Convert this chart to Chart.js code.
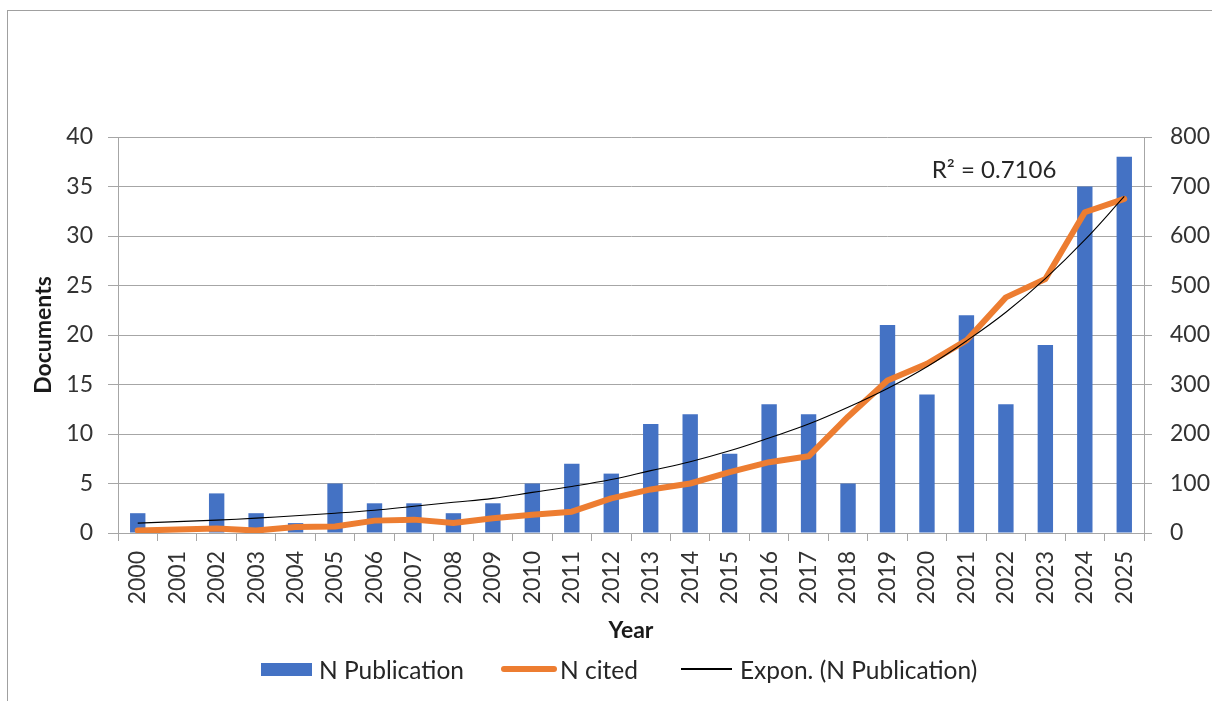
<!DOCTYPE html>
<html>
<head>
<meta charset="utf-8">
<title>Documents per year</title>
<script src="https://cdn.jsdelivr.net/npm/chart.js@4.4.1/dist/chart.umd.min.js"></script>
<style>
  html, body { margin: 0; padding: 0; background: #fff; overflow: hidden; }
  body { width: 1212px; height: 701px; position: relative; font-family: Lato, sans-serif; }
  #frame { position: absolute; left: 7px; top: 10px; width: 1400px; height: 1000px; border: 1px solid #a0a0a0; }
  #wrap { position: absolute; left: 0; top: 0; width: 1212px; height: 701px; }
  #legend { position: absolute; left: 261px; top: 655px; height: 28px; display: flex; align-items: center; font-size: 24.5px; color: #262626; }
  #legend .sw { display: inline-block; }
  #legend .lbl { white-space: nowrap; }
</style>
</head>
<body>
<div id="frame"></div>
<div id="wrap"><canvas id="docChart"></canvas></div>
<div id="legend"></div>

<script>
// data
const years = ['2000', '2001', '2002', '2003', '2004', '2005', '2006', '2007', '2008', '2009',
               '2010', '2011', '2012', '2013', '2014', '2015', '2016', '2017', '2018', '2019',
               '2020', '2021', '2022', '2023', '2024', '2025'];
const nPublication = [2, 0, 4, 2, 1, 5, 3, 3, 2, 3, 5, 7, 6, 11, 12, 8, 13, 12, 5, 21, 14, 22, 13, 19, 35, 38];
const nCited = [5, 7, 9, 5, 12, 13, 25, 27, 20, 30, 37, 43, 70, 88, 100, 123, 143, 155, 235, 308,
                342, 389, 476, 513, 648, 675];
// exponential trendline as drawn in the picture
const exponTrend = [1.0, 1.15, 1.3, 1.5, 1.75, 2.0, 2.3, 2.7, 3.1, 3.5, 4.1, 4.7, 5.4, 6.3, 7.2, 8.3,
                    9.6, 11.0, 12.7, 14.6, 16.8, 19.4, 22.3, 25.7, 29.6, 34.0];
const docTicks = [0, 5, 10, 15, 20, 25, 30, 35, 40];
const citedTicks = [0, 100, 200, 300, 400, 500, 600, 700, 800];
const r2Text = 'R\u00B2 = 0.7106';

const blue = '#4472C4';
const orange = '#ED7D31';
const gridGrey = '#a6a6a6';
const textCol = '#333333';
const fontFam = 'Lato, sans-serif';

// R² label next to the trendline
const r2Label = {
    id: 'r2Label',
    afterDatasetsDraw(chart) {
        const ctx = chart.ctx;
        const x = chart.scales.x.getPixelForValue(21.7);
        const y = chart.scales.y1.getPixelForValue(732);
        ctx.save();
        ctx.font = '24px ' + fontFam;
        ctx.fillStyle = '#262626';
        ctx.textAlign = 'center';
        ctx.textBaseline = 'middle';
        ctx.fillText(r2Text, x, y);
        ctx.restore();
    }
};

const data = {
    labels: years,
    datasets: [{
        type: 'bar',
        label: 'N Publication',
        data: nPublication,
        backgroundColor: blue,
        yAxisID: 'y',
        barPercentage: 0.39,
        categoryPercentage: 1,
        order: 3
    }, {
        type: 'line',
        label: 'N cited',
        data: nCited,
        borderColor: orange,
        backgroundColor: orange,
        borderWidth: 6,
        borderJoinStyle: 'round',
        borderCapStyle: 'round',
        pointRadius: 0,
        tension: 0,
        yAxisID: 'y1',
        order: 2
    }, {
        type: 'line',
        label: 'Expon. (N Publication)',
        data: exponTrend,
        borderColor: '#000000',
        borderWidth: 1.1,
        pointRadius: 0,
        tension: 0.4,
        yAxisID: 'y',
        order: 1
    }]
};

const config = {
    data: data,
    options: {
        responsive: true,
        maintainAspectRatio: false,
        animation: false,
        layout: { padding: { top: 137, left: 12, right: 0, bottom: 53 } },
        plugins: {
            legend: { display: false },
            tooltip: { enabled: true }
        },
        scales: {
            x: {
                grid: { offset: true, drawOnChartArea: false, tickLength: 8, color: gridGrey },
                border: { color: gridGrey },
                ticks: {
                    color: textCol, font: { family: fontFam, size: 23 },
                    minRotation: 90, maxRotation: 90, autoSkip: false, padding: 10
                },
                title: {
                    display: true, text: 'Year', color: '#1a1a1a',
                    font: { family: fontFam, size: 23, weight: 'bold' },
                    padding: { top: 4, bottom: 4 }
                },
                afterFit: function(scale) { scale.height = 115; }
            },
            y: {
                position: 'left',
                min: 0, max: 40,
                afterBuildTicks: function(scale) { scale.ticks = docTicks.map(v => ({ value: v })); },
                grid: { color: gridGrey, tickLength: 10 },
                border: { color: gridGrey },
                ticks: { color: textCol, font: { family: fontFam, size: 23 }, padding: 15 },
                title: {
                    display: true, text: 'Documents', color: '#1a1a1a',
                    font: { family: fontFam, size: 23, weight: 'bold' },
                    padding: { top: 18, bottom: 0 }
                },
                afterFit: function(scale) { scale.width = 106; }
            },
            y1: {
                position: 'right',
                min: 0, max: 800,
                afterBuildTicks: function(scale) { scale.ticks = citedTicks.map(v => ({ value: v })); },
                grid: { drawOnChartArea: false, color: gridGrey, tickLength: 8 },
                border: { color: gridGrey },
                ticks: { color: textCol, font: { family: fontFam, size: 23 }, padding: 18 },
                afterFit: function(scale) { scale.width = 68; }
            }
        }
    },
    plugins: [r2Label]
};

// legend in html so the swatches can have different widths
function buildLegend(chart) {
    const box = document.getElementById('legend');
    const swatches = [
        { w: 51, h: 13, bg: blue, radius: 0, gapAfter: 7, gapBefore: 0 },
        { w: 56, h: 6, bg: orange, radius: 3, gapAfter: 3, gapBefore: 37 },
        { w: 51, h: 1.5, bg: '#000', radius: 0, gapAfter: 8, gapBefore: 43 }
    ];
    chart.data.datasets.forEach(function(ds, i) {
        const s = swatches[i];
        const sw = document.createElement('span');
        sw.className = 'sw';
        sw.style.width = s.w + 'px';
        sw.style.height = s.h + 'px';
        sw.style.background = s.bg;
        sw.style.borderRadius = s.radius + 'px';
        sw.style.marginLeft = s.gapBefore + 'px';
        sw.style.marginRight = s.gapAfter + 'px';
        const lbl = document.createElement('span');
        lbl.className = 'lbl';
        lbl.textContent = ds.label;
        box.appendChild(sw);
        box.appendChild(lbl);
    });
}

function createChart() {
    const canvas = document.getElementById('docChart');
    if (canvas) {
        const myChart = new Chart(canvas, config);
        buildLegend(myChart);
    }
}

createChart();
</script>
</body>
</html>
